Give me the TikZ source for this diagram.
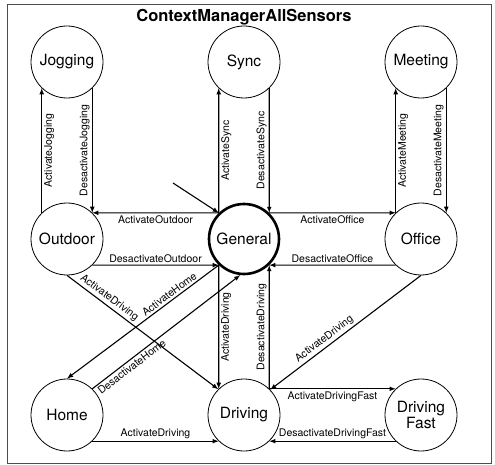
\documentclass[tikz,border=0pt]{standalone}
\usepackage{fontspec}
\setmainfont{TeX Gyre Heros}
\usetikzlibrary{arrows, positioning}
\tikzset{>=latex}
\tikzset{
  sensor/.style={circle, draw, line width=0.8pt, minimum size=72pt, inner sep=0pt, align=center, font=\fontsize{15.5}{16.5}\selectfont},
  edge/.style={->, line width=1.1pt},
  lbl/.style={font=\fontsize{10.5}{12}\selectfont, inner sep=2pt}
}

\begin{document}
\begin{tikzpicture}[x=1pt, y=-1pt]
\useasboundingbox (0,0) rectangle (495,465);
\draw[line width=0.8pt, black!70] (7,4) rectangle (491,463);
\node[font=\bfseries\fontsize{16.5}{18}\selectfont] (title) at (244,17) {ContextManagerAllSensors};

\node[sensor] (Jogging) at (67,62) {Jogging};
\node[sensor] (Sync) at (244,62) {Sync};
\node[sensor] (Meeting) at (421,62) {Meeting};
\node[sensor] (Outdoor) at (67,239) {Outdoor};
\node[sensor, line width=2.6pt, minimum size=70pt] (General) at (244,239) {General};
\node[sensor] (Office) at (421,239) {Office};
\node[sensor] (Home) at (67,415) {Home};
\node[sensor] (Driving) at (244,415) {Driving};
\node[sensor] (DrivingFast) at (421,415) {Driving\\Fast};
\coordinate (start) at (173,183);

\draw[edge] (start) -- (General.134);

\draw[edge] (Outdoor.134) -- node[lbl, rotate=90, anchor=north] {ActivateJogging} (Jogging.226);
\draw[edge] (Jogging.-46) -- node[lbl, rotate=90, anchor=south] {DesactivateJogging} (Outdoor.46);
\draw[edge] (General.134) -- node[lbl, rotate=90, anchor=north] {ActivateSync} (Sync.226);
\draw[edge] (Sync.-46) -- node[lbl, rotate=90, anchor=south] {DesactivateSync} (General.46);
\draw[edge] (Office.134) -- node[lbl, rotate=90, anchor=north] {ActivateMeeting} (Meeting.226);
\draw[edge] (Meeting.-46) -- node[lbl, rotate=90, anchor=south] {DesactivateMeeting} (Office.46);

\draw[edge] (General.134) -- node[lbl, below] {ActivateOutdoor} (Outdoor.46);
\draw[edge] (Outdoor.-46) -- node[lbl, above] {DesactivateOutdoor} (General.226);
\draw[edge] (General.46) -- node[lbl, below] {ActivateOffice} (Office.134);
\draw[edge] (Office.-134) -- node[lbl, above] {DesactivateOffice} (General.-46);

\draw[edge] (Outdoor.-90) -- node[lbl, pos=0.25, sloped, above] {ActivateDriving} (Driving.135);
\draw[edge] (General.226) -- node[lbl, pos=0.3, sloped, above] {ActivateHome} (Home.90);
\draw[edge] (Home.46) -- node[lbl, pos=0.24, sloped, below] {DesactivateHome} (General.264);
\draw[edge] (General.226) -- node[lbl, rotate=90, anchor=north] {ActivateDriving} (Driving.134);
\draw[edge] (Driving.46) -- node[lbl, rotate=90, anchor=south] {DesactivateDriving} (General.-46);
\draw[edge] (Office.-90) -- node[lbl, pos=0.61, sloped, above] {ActivateDriving} (Driving.44);

\draw[edge] (Driving.46) -- node[lbl, below] {ActivateDrivingFast} (DrivingFast.134);
\draw[edge] (DrivingFast.-134) -- node[lbl, above] {DesactivateDrivingFast} (Driving.-46);
\draw[edge] (Home.-46) -- node[lbl, above] {ActivateDriving} (Driving.226);
\end{tikzpicture}
\end{document}
